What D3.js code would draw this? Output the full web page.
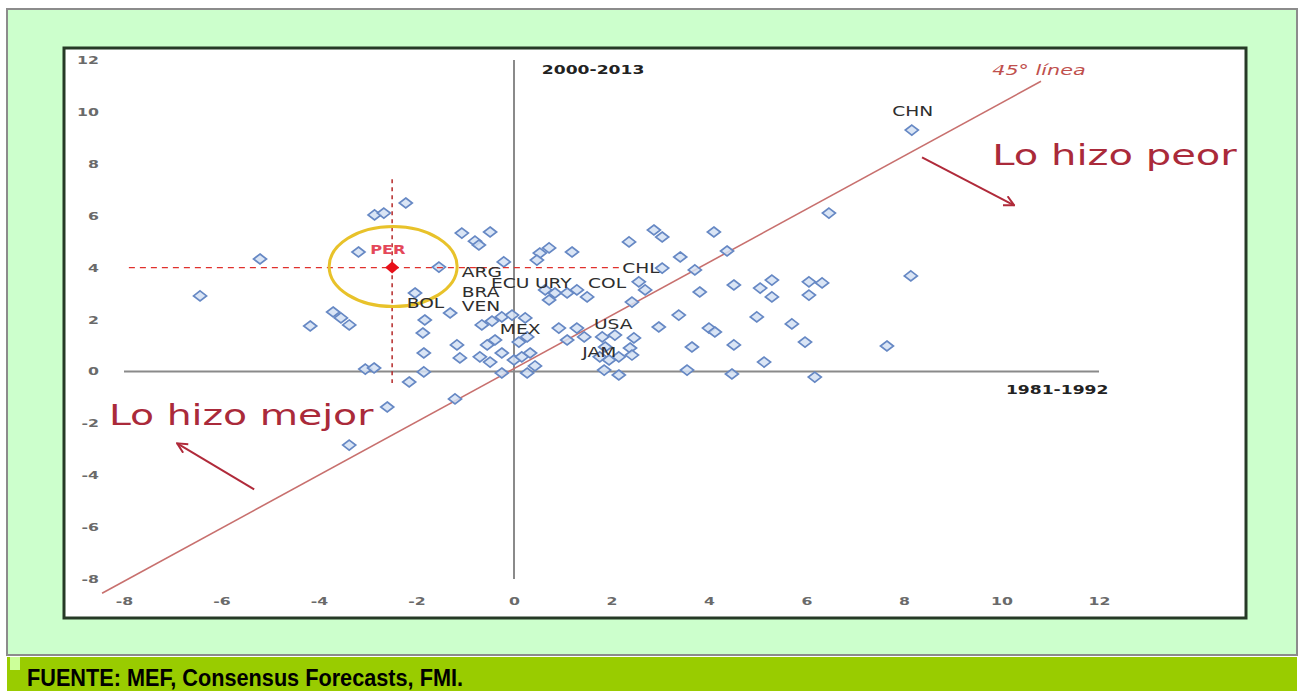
<!DOCTYPE html>
<html><head><meta charset="utf-8">
<script src="https://cdn.jsdelivr.net/npm/d3@7"></script>
<style>body{margin:0;background:#fff;} svg{display:block;}</style>
</head><body>
<svg id="chart" width="1305" height="691"></svg>
<script>
// ---- Data (x: 1981-1992, y: 2000-2013) ----
const ptsX = [-6.44,-5.21,-4.18,-3.71,-3.55,-3.38,-3.19,-2.86,-2.67,-2.22,-3.05,-2.87,-3.38,-2.60,-2.15,-1.54,-2.03,-1.83,-1.31,-1.87,
  -1.85,-1.85,-1.17,-1.11,-1.21,-1.07,-0.80,-0.72,-0.49,-0.21,-0.66,-0.45,-0.25,-0.04,0.23,-0.55,-0.39,-0.70,-0.49,-0.25,
  0.10,0.27,0.00,0.16,0.33,0.43,0.27,-0.25,0.53,0.72,0.47,1.19,0.64,0.84,1.09,1.29,1.50,0.72,2.36,2.87,
  3.04,3.41,4.10,4.37,3.71,3.04,2.56,2.69,2.42,3.81,4.51,5.05,5.29,5.29,6.05,6.32,6.05,8.14,6.46,8.16,
  3.38,4.98,5.70,4.00,4.12,2.97,3.65,4.51,5.97,7.65,5.13,3.55,4.47,6.17,1.29,1.09,0.92,1.44,1.81,2.07,
  2.46,1.87,2.38,2.15,1.76,1.85,2.15,1.95,2.42];
const ptsY = [2.91,4.33,1.75,2.29,2.06,1.79,4.60,6.03,6.10,6.49,0.09,0.13,-2.84,-1.37,-0.41,4.02,3.02,1.98,2.25,1.48,
  0.71,-0.02,1.02,0.52,-1.06,5.33,5.02,4.87,5.37,4.22,1.79,1.94,2.10,2.17,2.06,1.02,1.21,0.56,0.36,0.71,
  1.13,1.33,0.44,0.56,0.71,0.21,-0.06,-0.06,4.56,4.76,4.29,4.60,3.14,3.02,3.02,3.14,2.87,2.75,4.99,5.45,
  5.18,4.41,5.37,4.64,3.91,3.98,3.45,3.14,2.67,3.06,3.33,3.21,3.52,2.87,3.45,3.41,2.94,3.68,6.10,9.30,
  2.17,2.10,1.83,1.67,1.52,1.71,0.94,1.02,1.13,0.98,0.36,0.05,-0.10,-0.22,1.67,1.21,1.67,1.33,1.33,1.40,
  1.29,0.94,0.90,0.56,0.56,0.05,-0.14,0.44,0.63];
const labelNames = ["ARG","ECU","URY","COL","BRA","VEN","BOL","MEX","USA","JAM","CHL","CHN"];
const labelX = [-1.07,-0.47,0.43,1.52,-1.07,-1.07,-2.20,-0.29,1.64,1.40,2.22,7.76];
const labelY = [3.64,3.21,3.21,3.21,2.85,2.33,2.46,1.46,1.65,0.54,3.81,9.85];
const perX = [-2.5], perY = [4.0], perName = ["PER"];
const xTicks = [-8,-6,-4,-2,0,2,4,6,8,10,12];
const yTicks = [-8,-6,-4,-2,0,2,4,6,8,10,12];
const lineX = [-8.45, 10.81], lineY = [-8.55, 11.18];   // 45° line
const dashH = {x:[-7.9, 2.15], y:[4.0, 4.0]};
const dashV = {x:[-2.5, -2.5], y:[7.4, -0.45]};
const arrowPeor = {x:[8.37, 10.26], y:[8.25, 6.40]};
const arrowMejor = {x:[-5.33, -6.91], y:[-4.55, -2.77]};
const xAxisTitle = "1981-1992", yAxisTitle = "2000-2013";
const source = "FUENTE: MEF, Consensus Forecasts, FMI.";

const SX = 1.43; // horizontal stretch of the original picture
const svg = d3.select("#chart");

// ---- frame ----
svg.append("rect").attr("x",7).attr("y",9).attr("width",1290).attr("height",646)
  .attr("fill","#ccffcc").attr("stroke","#8c8c8c").attr("stroke-width",2);
svg.append("rect").attr("x",64).attr("y",48).attr("width",1182).attr("height",570)
  .attr("fill","#ffffff").attr("stroke","#263a26").attr("stroke-width",3);
svg.append("rect").attr("x",7).attr("y",657).attr("width",1290).attr("height",34).attr("fill","#99cc00");
svg.append("rect").attr("x",10).attr("y",657).attr("width",10).attr("height",13).attr("fill","#ccff99");
svg.append("text").attr("x",27).attr("y",686).attr("textLength",436).attr("lengthAdjust","spacingAndGlyphs")
  .style("font-family","'Liberation Sans Narrow','Liberation Sans',Arial,sans-serif").style("font-weight","bold")
  .style("font-size","23px").attr("fill","#000").text(source);

const x = d3.scaleLinear().domain([-8,12]).range([124,1099]);
const y = d3.scaleLinear().domain([-8,12]).range([579,60]);

function stext(px, py, str, o) {
  o = o || {};
  return svg.append("text")
    .attr("transform", `translate(${px},${py}) scale(${o.sx||SX},1)`)
    .attr("text-anchor", o.anchor || "start")
    .style("font-family", o.family || "'DejaVu Sans',sans-serif")
    .style("font-size", (o.size||14) + "px")
    .style("font-weight", o.weight || "normal")
    .style("font-style", o.style || "normal")
    .attr("fill", o.fill || "#333")
    .text(str);
}

// ---- axes (labels only) ----
const gy = svg.append("g").attr("transform","translate(99,0)")
  .call(d3.axisLeft(y).tickValues(yTicks).tickSize(0).tickPadding(0).tickFormat(d=>String(d)));
const gx = svg.append("g").attr("transform","translate(0,597)")
  .call(d3.axisBottom(x).tickValues(xTicks).tickSize(0).tickPadding(0).tickFormat(d=>String(d)));
[gx, gy].forEach(g => {
  g.select(".domain").remove();
  g.selectAll("text").attr("transform",`scale(${SX},1)`)
    .style("font-family","'DejaVu Sans',sans-serif").style("font-size","11px")
    .style("font-weight","bold").attr("fill","#6a6a6a");
});

// zero lines
svg.append("line").attr("x1",x(0)).attr("x2",x(0)).attr("y1",y(12)).attr("y2",y(-8))
  .attr("stroke","#8a8a8a").attr("stroke-width",2);
svg.append("line").attr("x1",x(-8)).attr("x2",x(12)).attr("y1",y(0)).attr("y2",y(0))
  .attr("stroke","#8a8a8a").attr("stroke-width",2);

// 45 degree line
svg.append("line").attr("x1",x(lineX[0])).attr("y1",y(lineY[0])).attr("x2",x(lineX[1])).attr("y2",y(lineY[1]))
  .attr("stroke","#c8706e").attr("stroke-width",1.6);

// points
const dPath = "M0,-5L6.5,0L0,5L-6.5,0Z";
svg.append("g").selectAll("path").data(d3.range(ptsX.length)).join("path")
  .attr("d", dPath)
  .attr("transform", i => `translate(${x(ptsX[i])},${y(ptsY[i])})`)
  .attr("fill","#d3e1f3").attr("stroke","#6688c4").attr("stroke-width",1.7).attr("fill-opacity",0.85);

// PER highlight
svg.append("line").attr("x1",x(dashH.x[0])).attr("x2",x(dashH.x[1])).attr("y1",y(dashH.y[0])).attr("y2",y(dashH.y[1]))
  .attr("stroke","#e0302c").attr("stroke-width",1.4).attr("stroke-dasharray","6,5");
svg.append("line").attr("x1",x(dashV.x[0])).attr("x2",x(dashV.x[1])).attr("y1",y(dashV.y[0])).attr("y2",y(dashV.y[1]))
  .attr("stroke","#b01a1a").attr("stroke-width",1.4).attr("stroke-dasharray","4,4");
svg.append("ellipse").attr("cx",x(perX[0])+1).attr("cy",y(perY[0])-1).attr("rx",64).attr("ry",40)
  .attr("fill","none").attr("stroke","#e8c22a").attr("stroke-width",3);
svg.append("path").attr("d","M0,-6L7,0L0,6L-7,0Z")
  .attr("transform",`translate(${x(perX[0])},${y(perY[0])})`).attr("fill","#e8101a");
stext(x(perX[0])-22, y(perY[0])-14, perName[0], {size:13, fill:"#e4485a", weight:"bold", sx:1.25});

// country labels
labelNames.forEach((n,i) => stext(x(labelX[i]), y(labelY[i]), n, {size:13.5, fill:"#2e2e2e", sx:1.38}));

// axis titles
stext(x(0.57), y(11.45), yAxisTitle, {size:12, weight:"bold", fill:"#222"});
stext(x(10.09), y(-0.89), xAxisTitle, {size:12, weight:"bold", fill:"#222"});
stext(x(9.81), y(11.41), "45° línea", {size:14.5, style:"italic", fill:"#c0504d"});

// annotations
stext(x(9.81), y(7.95), "Lo hizo peor", {size:28, fill:"#aa2a3a"});
stext(x(-8.31), y(-2.08), "Lo hizo mejor", {size:27.5, fill:"#aa2a3a"});

svg.append("defs").append("marker").attr("id","ah").attr("viewBox","0 0 12 12")
  .attr("refX",11).attr("refY",6).attr("markerWidth",12).attr("markerHeight",12)
  .attr("markerUnits","userSpaceOnUse").attr("orient","auto")
  .append("path").attr("d","M1,1L11,6L1,11").attr("fill","none").attr("stroke","#b02a3a").attr("stroke-width",2);
[arrowPeor, arrowMejor].forEach(a => {
  svg.append("line").attr("x1",x(a.x[0])).attr("y1",y(a.y[0])).attr("x2",x(a.x[1])).attr("y2",y(a.y[1]))
    .attr("stroke","#b02a3a").attr("stroke-width",2).attr("marker-end","url(#ah)");
});
</script>
</body></html>
